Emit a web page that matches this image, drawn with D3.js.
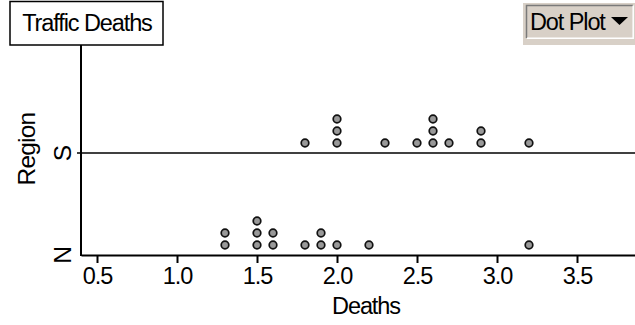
<!DOCTYPE html>
<html>
<head>
<meta charset="utf-8">
<script src="https://cdn.jsdelivr.net/npm/d3@7"></script>
<style>
  html, body { margin: 0; padding: 0; background: #fff; }
  svg { display: block; }
  text { font-family: "Liberation Sans", Arial, sans-serif; fill: #000; }
</style>
</head>
<body>
<svg id="chart" width="635" height="325"></svg>
<script>
// Traffic deaths per region, one dot per case
const regions = ["S", "N"];
const deathsS = [1.8, 2.0, 2.0, 2.0, 2.3, 2.5, 2.6, 2.6, 2.6, 2.7, 2.9, 2.9, 3.2];
const deathsN = [1.3, 1.3, 1.5, 1.5, 1.5, 1.6, 1.6, 1.8, 1.9, 1.9, 2.0, 2.2, 3.2];
const xTicks = [0.5, 1.0, 1.5, 2.0, 2.5, 3.0, 3.5];
const title = "Traffic Deaths";
const xTitle = "Deaths";
const yTitle = "Region";
const menuLabel = "Dot Plot";

const svg = d3.select("#chart");
const FONT = 23.5;
const TRACK = -1.1;

const x = d3.scaleLinear().domain([0.4, 3.86]).range([81, 634.6]);
const y = d3.scalePoint().domain(regions).range([153, 255]);
const yTop = 45;
const dotGap = 12, dotBase = 10, dotR = 3.8;

// stack repeated values into columns
function stack(values, region) {
  const counts = new Map();
  return values.map(v => {
    const k = v.toFixed(2);
    const i = counts.get(k) || 0;
    counts.set(k, i + 1);
    return { v, region, level: i };
  });
}
const dots = stack(deathsS, "S").concat(stack(deathsN, "N"));

// x axis
const xAxis = d3.axisBottom(x).tickValues(xTicks).tickFormat(d3.format(".1f"))
  .tickSize(8).tickSizeOuter(0).tickPadding(6);
const gx = svg.append("g").attr("transform", `translate(0,${y("N")})`).call(xAxis);
gx.select(".domain").attr("stroke", "#000").attr("stroke-width", 2);
gx.selectAll(".tick line").attr("stroke", "#000").attr("stroke-width", 2);
gx.selectAll(".tick text").attr("font-size", FONT).attr("letter-spacing", TRACK)
  .attr("font-family", "Liberation Sans, Arial, sans-serif").attr("fill", "#000")
  .attr("dy", "0.62em");

// y axis line
svg.append("line").attr("x1", x(0.4)).attr("x2", x(0.4))
  .attr("y1", yTop).attr("y2", y("N") + 1).attr("stroke", "#000").attr("stroke-width", 2);

// category separator line for S with its tick
svg.append("line").attr("x1", x(0.4) - 4).attr("x2", 635)
  .attr("y1", y("S")).attr("y2", y("S")).attr("stroke", "#000").attr("stroke-width", 1.5);

// category labels
regions.forEach(r => {
  svg.append("text")
    .attr("transform", `translate(71,${y(r)}) rotate(-90)`)
    .attr("text-anchor", "middle").attr("font-size", FONT + 1).text(r);
});

// axis titles
svg.append("text").attr("transform", `translate(35,149) rotate(-90)`)
  .attr("text-anchor", "middle").attr("font-size", FONT + 1).attr("letter-spacing", TRACK + 0.3).text(yTitle);
svg.append("text").attr("x", 366).attr("y", 314)
  .attr("text-anchor", "middle").attr("font-size", FONT).attr("letter-spacing", TRACK).text(xTitle);

// dots
svg.append("g").selectAll("circle").data(dots).join("circle")
  .attr("cx", d => x(d.v))
  .attr("cy", d => y(d.region) - dotBase - d.level * dotGap)
  .attr("r", dotR)
  .attr("fill", "#999999").attr("stroke", "#111").attr("stroke-width", 1.7);

// title box
svg.append("rect").attr("x", 10).attr("y", 1.5).attr("width", 153).attr("height", 43.5)
  .attr("fill", "#fff").attr("stroke", "#000").attr("stroke-width", 1.5);
svg.append("text").attr("x", 87).attr("y", 31).attr("text-anchor", "middle")
  .attr("font-size", FONT).attr("letter-spacing", TRACK).text(title);

// plot-type menu button
const mb = svg.append("g");
mb.append("rect").attr("x", 523).attr("y", 3).attr("width", 112).attr("height", 42).attr("fill", "#d8d0c7");
mb.append("rect").attr("x", 526).attr("y", 5).attr("width", 107).attr("height", 33)
  .attr("fill", "#d8d0c7");
mb.append("path").attr("d", "M526.5,38 V5.5 H633").attr("fill", "none").attr("stroke", "#7a7a7a").attr("stroke-width", 1.5);
mb.append("path").attr("d", "M527,38.2 H633.2 V5.5").attr("fill", "none").attr("stroke", "#fff").attr("stroke-width", 1.5);
mb.append("text").attr("x", 530).attr("y", 30).attr("font-size", FONT).attr("letter-spacing", TRACK).text(menuLabel);
mb.append("path").attr("d", "M611,17 L628,17 L619.5,25 Z").attr("fill", "#000");
</script>
</body>
</html>
